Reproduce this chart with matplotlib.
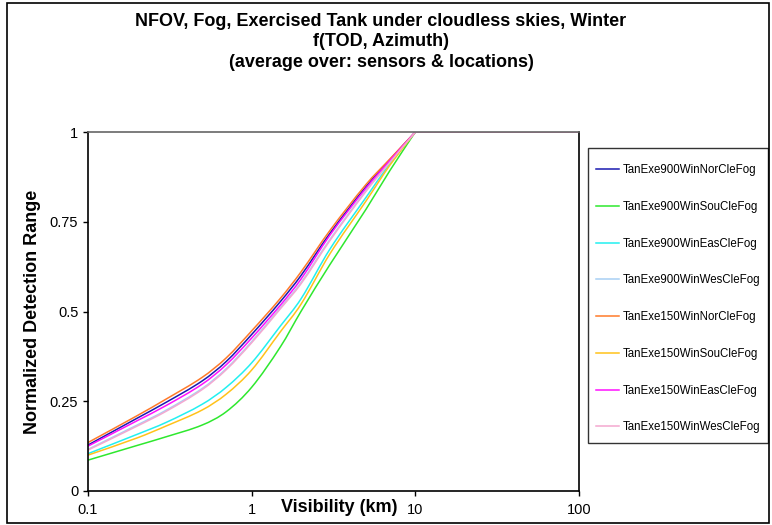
import matplotlib
matplotlib.use('Agg')
import matplotlib.pyplot as plt
import numpy as np
from matplotlib.patches import Rectangle, PathPatch
from matplotlib.path import Path

plt.rcParams['font.family'] = ['Liberation Sans', 'DejaVu Sans']

visibility = [0.1, 0.2, 0.3, 0.5, 0.7, 1, 1.5, 2, 3, 5, 7, 10, 100]

names = ['TanExe900WinNorCleFog', 'TanExe900WinSouCleFog', 'TanExe900WinEasCleFog',
         'TanExe900WinWesCleFog', 'TanExe150WinNorCleFog', 'TanExe150WinSouCleFog',
         'TanExe150WinEasCleFog', 'TanExe150WinWesCleFog']
colors = ['#1a1ab0', '#2ee82e', '#22f0f0', '#a8d0f4', '#ff7a2a', '#ffc21a', '#ff10ff', '#f4a8d0']

tan900_nor = [0.128, 0.203, 0.247, 0.307, 0.361, 0.436, 0.528, 0.600, 0.717, 0.848, 0.923, 1, 1]
tan900_sou = [0.086, 0.127, 0.151, 0.184, 0.221, 0.289, 0.402, 0.500, 0.630, 0.785, 0.893, 1, 1]
tan900_eas = [0.104, 0.158, 0.191, 0.242, 0.289, 0.357, 0.460, 0.535, 0.673, 0.818, 0.912, 1, 1]
tan900_wes = [0.116, 0.184, 0.225, 0.286, 0.341, 0.416, 0.511, 0.580, 0.700, 0.837, 0.917, 1, 1]
tan150_nor = [0.135, 0.210, 0.256, 0.317, 0.371, 0.446, 0.537, 0.610, 0.725, 0.854, 0.925, 1, 1]
tan150_sou = [0.100, 0.148, 0.181, 0.226, 0.270, 0.337, 0.444, 0.520, 0.660, 0.808, 0.908, 1, 1]
tan150_eas = [0.125, 0.196, 0.238, 0.298, 0.352, 0.426, 0.518, 0.590, 0.712, 0.844, 0.921, 1, 1]
tan150_wes = [0.114, 0.181, 0.222, 0.283, 0.338, 0.413, 0.508, 0.577, 0.697, 0.835, 0.916, 1, 1]
series = [tan900_nor, tan900_sou, tan900_eas, tan900_wes,
          tan150_nor, tan150_sou, tan150_eas, tan150_wes]


def smooth_path(xs, ys):
    # smoothed line like excel: cubic segments through the points, in log x
    u = np.log10(xs)
    y = np.asarray(ys, float)
    n = len(u)
    m = np.zeros(n)
    m[0] = (y[1] - y[0]) / (u[1] - u[0])
    m[-1] = (y[-1] - y[-2]) / (u[-1] - u[-2])
    for i in range(1, n - 1):
        m[i] = (y[i + 1] - y[i - 1]) / (u[i + 1] - u[i - 1])
    verts = [(xs[0], y[0])]
    codes = [Path.MOVETO]
    for i in range(n - 1):
        h = (u[i + 1] - u[i]) / 3
        verts += [(10 ** (u[i] + h), y[i] + m[i] * h),
                  (10 ** (u[i + 1] - h), y[i + 1] - m[i + 1] * h),
                  (xs[i + 1], y[i + 1])]
        codes += [Path.CURVE4] * 3
    return Path(verts, codes)


W, H = 772, 525
fig = plt.figure(figsize=(W / 100, H / 100), dpi=100)
ax = fig.add_axes([88 / W, 1 - 491 / H, (579 - 88) / W, (491 - 132) / H])
ax.set_xscale('log')
ax.set_xlim(0.1, 100)
ax.set_ylim(0, 1)

for vals, c, n in zip(series, colors, names):
    k = vals.index(1)  # curve part up to the first point at 1, flat after it
    ax.add_patch(PathPatch(smooth_path(visibility[:k + 1], vals[:k + 1]), fill=False, ec=c, lw=1.1))
    ax.plot(visibility[k:], vals[k:], color=c, lw=1.1)
    ax.plot([], [], color=c, lw=1.1, label=n)

ax.set_xticks([0.1, 1, 10, 100])
ax.set_xticklabels(['0.1', '1', '10', '100'])
ax.minorticks_off()
ax.set_yticks([0, 0.25, 0.5, 0.75, 1])
ax.set_yticklabels(['0', '0.25', '0.5', '0.75', '1'])
ax.tick_params(labelsize=10.5, length=3.5, width=1)
ax.tick_params(axis='x', pad=5)
for s in ['left', 'bottom', 'right']:
    ax.spines[s].set_linewidth(1.2)
ax.spines['top'].set_color('#666666')
ax.spines['top'].set_linewidth(1.2)

ax.set_xlabel('Visibility (km)', fontsize=13, fontweight='bold')
ax.xaxis.set_label_coords((339 - 88) / (579 - 88), -(507 - 491) / (491 - 132))
ax.xaxis.label.set_va('center')
ax.set_ylabel('Normalized Detection Range', fontsize=13, fontweight='bold')
ax.yaxis.set_label_coords(-(88 - 33) / (579 - 88), 0.5)
ax.yaxis.label.set_va('center')

fig.text(381 / W, 1 - 42 / H,
         'NFOV, Fog, Exercised Tank under cloudless skies, Winter\nf(TOD, Azimuth)\n(average over: sensors & locations)',
         ha='center', va='center', fontsize=13, fontweight='bold', linespacing=1.25)

# legend with its own box
leg = fig.legend(loc='upper left', bbox_to_anchor=(596 / W, 1 - 164 / H), frameon=False,
                 fontsize=8.3, labelspacing=2.15, handlelength=2.0, handletextpad=0.3,
                 borderpad=0, borderaxespad=0)
fig.patches.append(Rectangle((588 / W, 1 - 443 / H), (768 - 588) / W, (443 - 148) / H,
                             transform=fig.transFigure, fill=False, ec='#333333', lw=1))
fig.patches.append(Rectangle((7 / W, 2 / H), (769 - 7) / W, (522 - 2) / H,
                             transform=fig.transFigure, fill=False, ec='black', lw=1.2))

fig.savefig('out.png', dpi=100)
